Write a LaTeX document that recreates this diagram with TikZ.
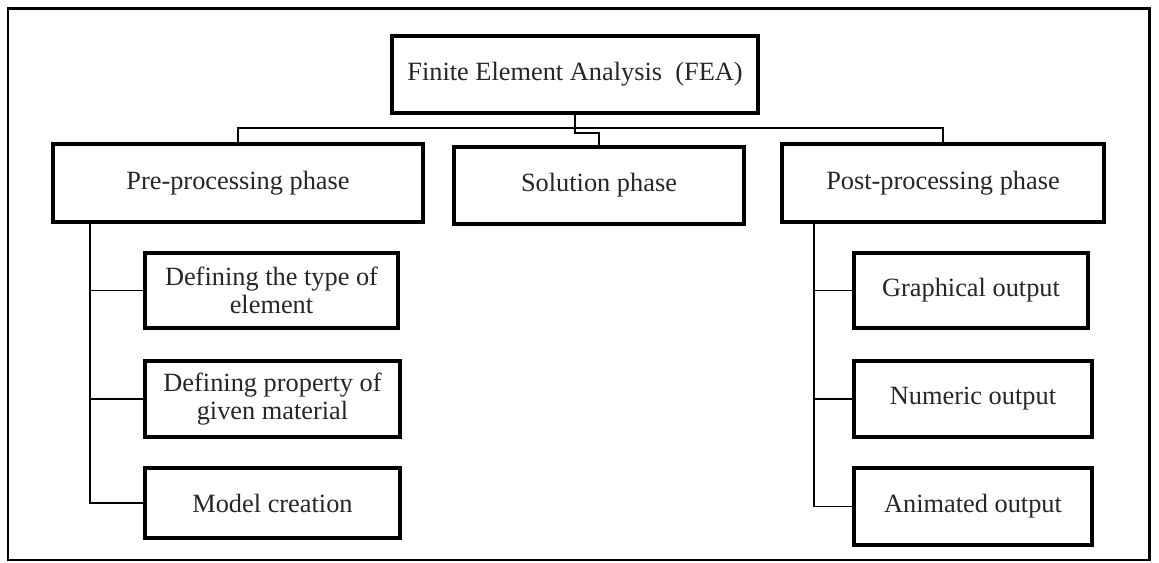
\documentclass[tikz,border=0pt]{standalone}
\usepackage{fontspec}
\setmainfont{Liberation Serif}

\tikzset{
  phasebox/.style={draw=black, line width=2pt, fill=white, text=black!85, align=center, inner sep=2pt,
    font=\fontsize{15}{16}\selectfont},
  link/.style={draw=black, line width=1pt}
}

\begin{document}
\begin{tikzpicture}[x=0.02cm, y=-0.02cm]
  \useasboundingbox (0,0) rectangle (1159,563);

  % Frame
  \draw[line width=1.7pt] (8,9) rectangle (1149,560);

  % Root
  \node[phasebox, minimum width=7.32cm, minimum height=1.54cm] (fea) at (575,74.5) {Finite Element Analysis \ (FEA)};

  % Phases
  \node[phasebox, minimum width=7.4cm, minimum height=1.56cm] (pre) at (238,183) {Pre-processing phase};
  \node[phasebox, minimum width=5.8cm, minimum height=1.54cm] (sol) at (599,185.5) {Solution phase};
  \node[phasebox, minimum width=6.44cm, minimum height=1.56cm] (post) at (943,183) {Post-processing phase};

  % Pre-processing steps
  \node[phasebox, minimum width=5.06cm, minimum height=1.5cm] (deftype) at (271.5,290.5) {Defining the type of\\ element};
  \node[phasebox, minimum width=5.1cm, minimum height=1.52cm] (defprop) at (272.5,399) {Defining property of\\ given material};
  \node[phasebox, minimum width=5.1cm, minimum height=1.4cm] (model) at (272.5,503) {Model creation};

  % Post-processing outputs
  \node[phasebox, minimum width=4.68cm, minimum height=1.5cm] (graph) at (971,290.5) {Graphical output};
  \node[phasebox, minimum width=4.76cm, minimum height=1.52cm] (numeric) at (973,399) {Numeric output};
  \node[phasebox, minimum width=4.76cm, minimum height=1.54cm] (anim) at (973,506.5) {Animated output};

  % Tree lines
  \coordinate (bus) at (0,128);
  \coordinate (leftstem) at (90,0);
  \coordinate (rightstem) at (814,0);

  \draw[link] (pre.north) -- (pre.north |- bus) -- (post.north |- bus) -- (post.north);
  \draw[link] (fea.south) -- ++(0,18) -| (sol.north);

  \draw[link] (leftstem |- pre.south) |- (model.west);
  \draw[link] (leftstem |- deftype.west) -- (deftype.west);
  \draw[link] (leftstem |- defprop.west) -- (defprop.west);

  \draw[link] (rightstem |- post.south) |- (anim.west);
  \draw[link] (rightstem |- graph.west) -- (graph.west);
  \draw[link] (rightstem |- numeric.west) -- (numeric.west);
\end{tikzpicture}
\end{document}
